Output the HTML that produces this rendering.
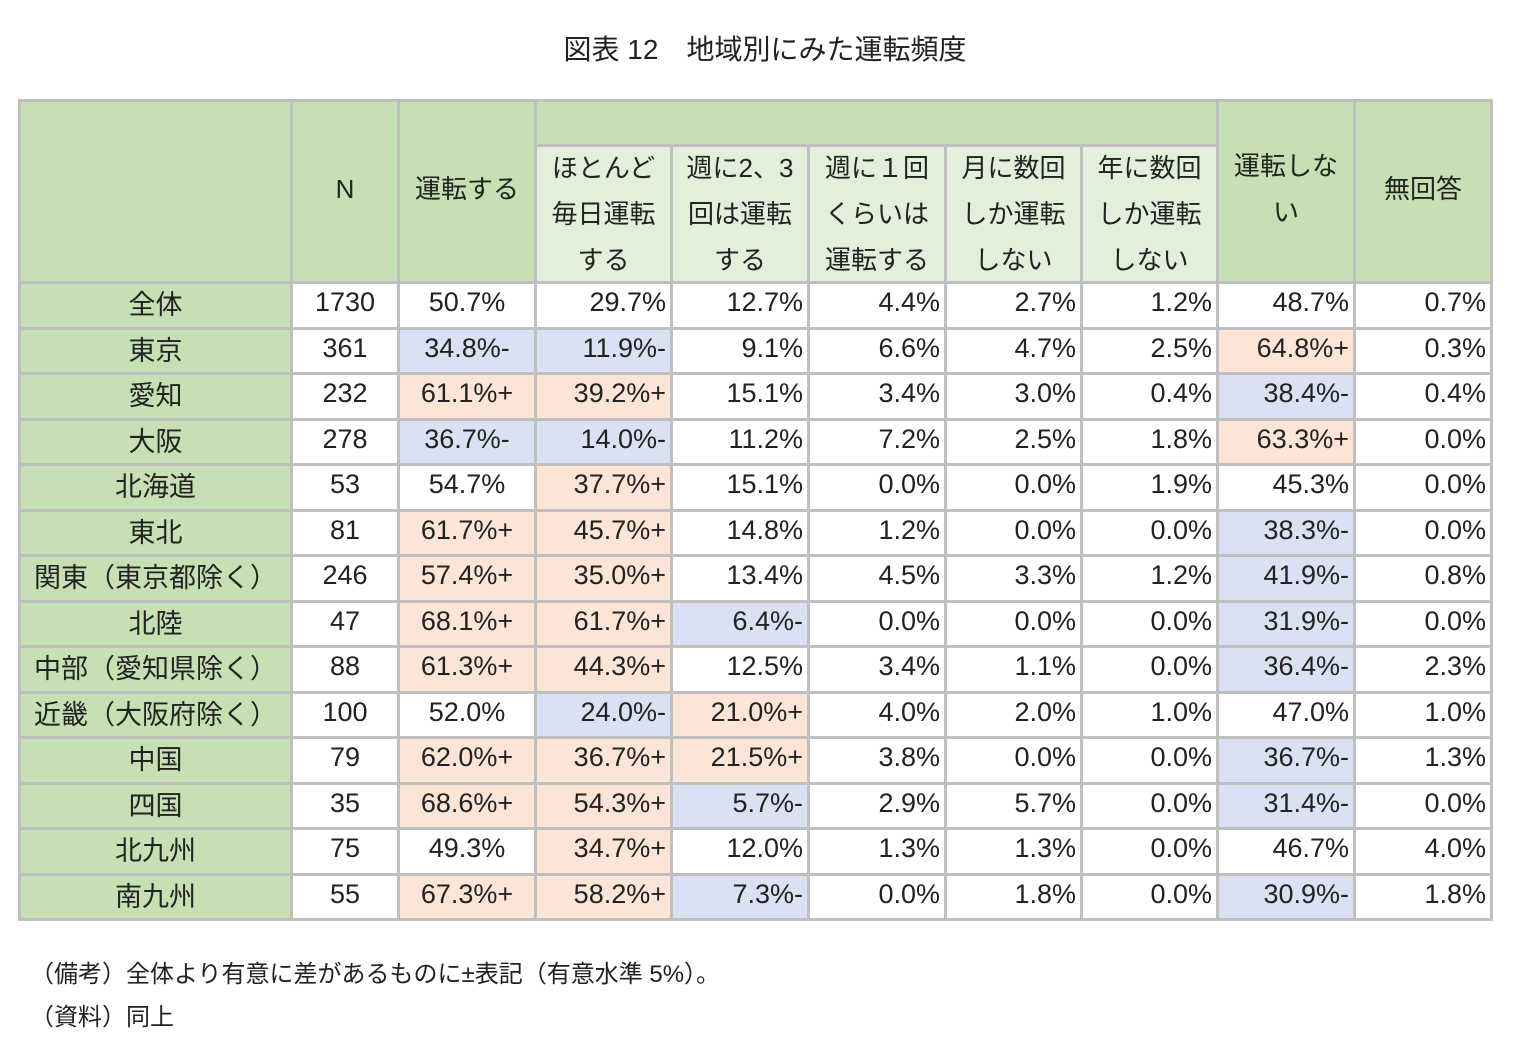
<!DOCTYPE html>
<html><head><meta charset="utf-8">
<style>
body{margin:0;width:1514px;height:1052px;background:#fff;font-family:"Liberation Sans","Noto Sans CJK JP",sans-serif;color:#222;position:relative;overflow:hidden}
.c{position:absolute;box-sizing:border-box;border:3px solid #bfbfbf;display:flex;align-items:center;font-size:27px;white-space:nowrap;padding-bottom:5px}
.g{background:#c6e0b4}.lg{background:#e2efda}.p{background:#fce4d6}.b{background:#d9e1f2}.w{background:#fff}
.ctr{justify-content:center}.rt{justify-content:flex-end;padding-right:4px}
.t{position:absolute;white-space:nowrap}
.hd{flex-direction:column;justify-content:center;line-height:46px;font-size:26px;text-align:center}
</style></head><body>
<div class="t" style="left:0;width:1530px;top:28px;text-align:center;font-size:28px">図表 12　地域別にみた運転頻度</div>
<div id="tbl"></div>
<div class="t" style="left:30px;top:954px;font-size:24px">（備考）全体より有意に差があるものに±表記（有意水準 5%）。</div>
<div class="t" style="left:30px;top:997px;font-size:24px">（資料）同上</div>
<script>
const regions=["全体","東京","愛知","大阪","北海道","東北","関東（東京都除く）","北陸","中部（愛知県除く）","近畿（大阪府除く）","中国","四国","北九州","南九州"];
const nValues=["1730","361","232","278","53","81","246","47","88","100","79","35","75","55"];
const drive=["50.7%","34.8%-","61.1%+","36.7%-","54.7%","61.7%+","57.4%+","68.1%+","61.3%+","52.0%","62.0%+","68.6%+","49.3%","67.3%+"];
const daily=["29.7%","11.9%-","39.2%+","14.0%-","37.7%+","45.7%+","35.0%+","61.7%+","44.3%+","24.0%-","36.7%+","54.3%+","34.7%+","58.2%+"];
const weekly23=["12.7%","9.1%","15.1%","11.2%","15.1%","14.8%","13.4%","6.4%-","12.5%","21.0%+","21.5%+","5.7%-","12.0%","7.3%-"];
const weekly1=["4.4%","6.6%","3.4%","7.2%","0.0%","1.2%","4.5%","0.0%","3.4%","4.0%","3.8%","2.9%","1.3%","0.0%"];
const monthly=["2.7%","4.7%","3.0%","2.5%","0.0%","0.0%","3.3%","0.0%","1.1%","2.0%","0.0%","5.7%","1.3%","1.8%"];
const yearly=["1.2%","2.5%","0.4%","1.8%","1.9%","0.0%","1.2%","0.0%","0.0%","1.0%","0.0%","0.0%","0.0%","0.0%"];
const noDrive=["48.7%","64.8%+","38.4%-","63.3%+","45.3%","38.3%-","41.9%-","31.9%-","36.4%-","47.0%","36.7%-","31.4%-","46.7%","30.9%-"];
const noAnswer=["0.7%","0.3%","0.4%","0.0%","0.0%","0.0%","0.8%","0.0%","2.3%","1.0%","1.3%","0.0%","4.0%","1.8%"];
const cols=[nValues,drive,daily,weekly23,weekly1,monthly,yearly,noDrive,noAnswer];
const colNames=['n','drive','daily','weekly-2-3','weekly-1','monthly','yearly','no-drive','no-answer'];
const xs=[19,291,398,535,671,808,945,1081,1217,1354,1491];
const tbl=document.getElementById('tbl');
function cell(x,y,w,h,cls,html){const d=document.createElement('div');d.className='c '+cls;d.style.left=(x-1)+'px';d.style.top=(y-1)+'px';d.style.width=(w+3)+'px';d.style.height=(h+3)+'px';d.innerHTML=html;tbl.appendChild(d);return d;}
const top0=100,subTop=145,hdrBot=282,rowH=(919-282)/14;
let d;
d=cell(xs[0],top0,xs[1]-xs[0],hdrBot-top0,'g','');


d=cell(xs[1],top0,xs[2]-xs[1],hdrBot-top0,'g hd','<div>N</div>');


d=cell(xs[2],top0,xs[8]-xs[2],subTop-top0,'g','');


d=cell(xs[2],top0,xs[3]-xs[2],hdrBot-top0,'g hd','<div>運転する</div>');


const subs=[["ほとんど","毎日運転","する"],["週に2、3","回は運転","する"],["週に１回","くらいは","運転する"],["月に数回","しか運転","しない"],["年に数回","しか運転","しない"]];
const subNames=['header-daily','header-weekly-2-3','header-weekly-1','header-monthly','header-yearly'];
for(let i=0;i<5;i++){d=cell(xs[3+i],subTop,xs[4+i]-xs[3+i],hdrBot-subTop,'lg hd',subs[i].map(s=>'<div>'+s+'</div>').join(''));
d.style.paddingBottom='0';

}
d=cell(xs[8],top0,xs[9]-xs[8],hdrBot-top0,'g hd','<div>運転しな</div><div>い</div>');


d=cell(xs[9],top0,xs[10]-xs[9],hdrBot-top0,'g hd','<div>無回答</div>');


for(let r=0;r<regions.length;r++){
 const y=hdrBot+r*rowH;
 d=cell(xs[0],y,xs[1]-xs[0],rowH,'g ctr',regions[r]);
 
 
 for(let c=0;c<cols.length;c++){
  const v=cols[c][r];
  let cls='w';if(v.endsWith('+'))cls='p';else if(v.endsWith('-'))cls='b';
  const al=(c<2)?'ctr':'rt';
  d=cell(xs[c+1],y,xs[c+2]-xs[c+1],rowH,cls+' '+al,v);
  
  
 }
}
</script>
</body></html>
